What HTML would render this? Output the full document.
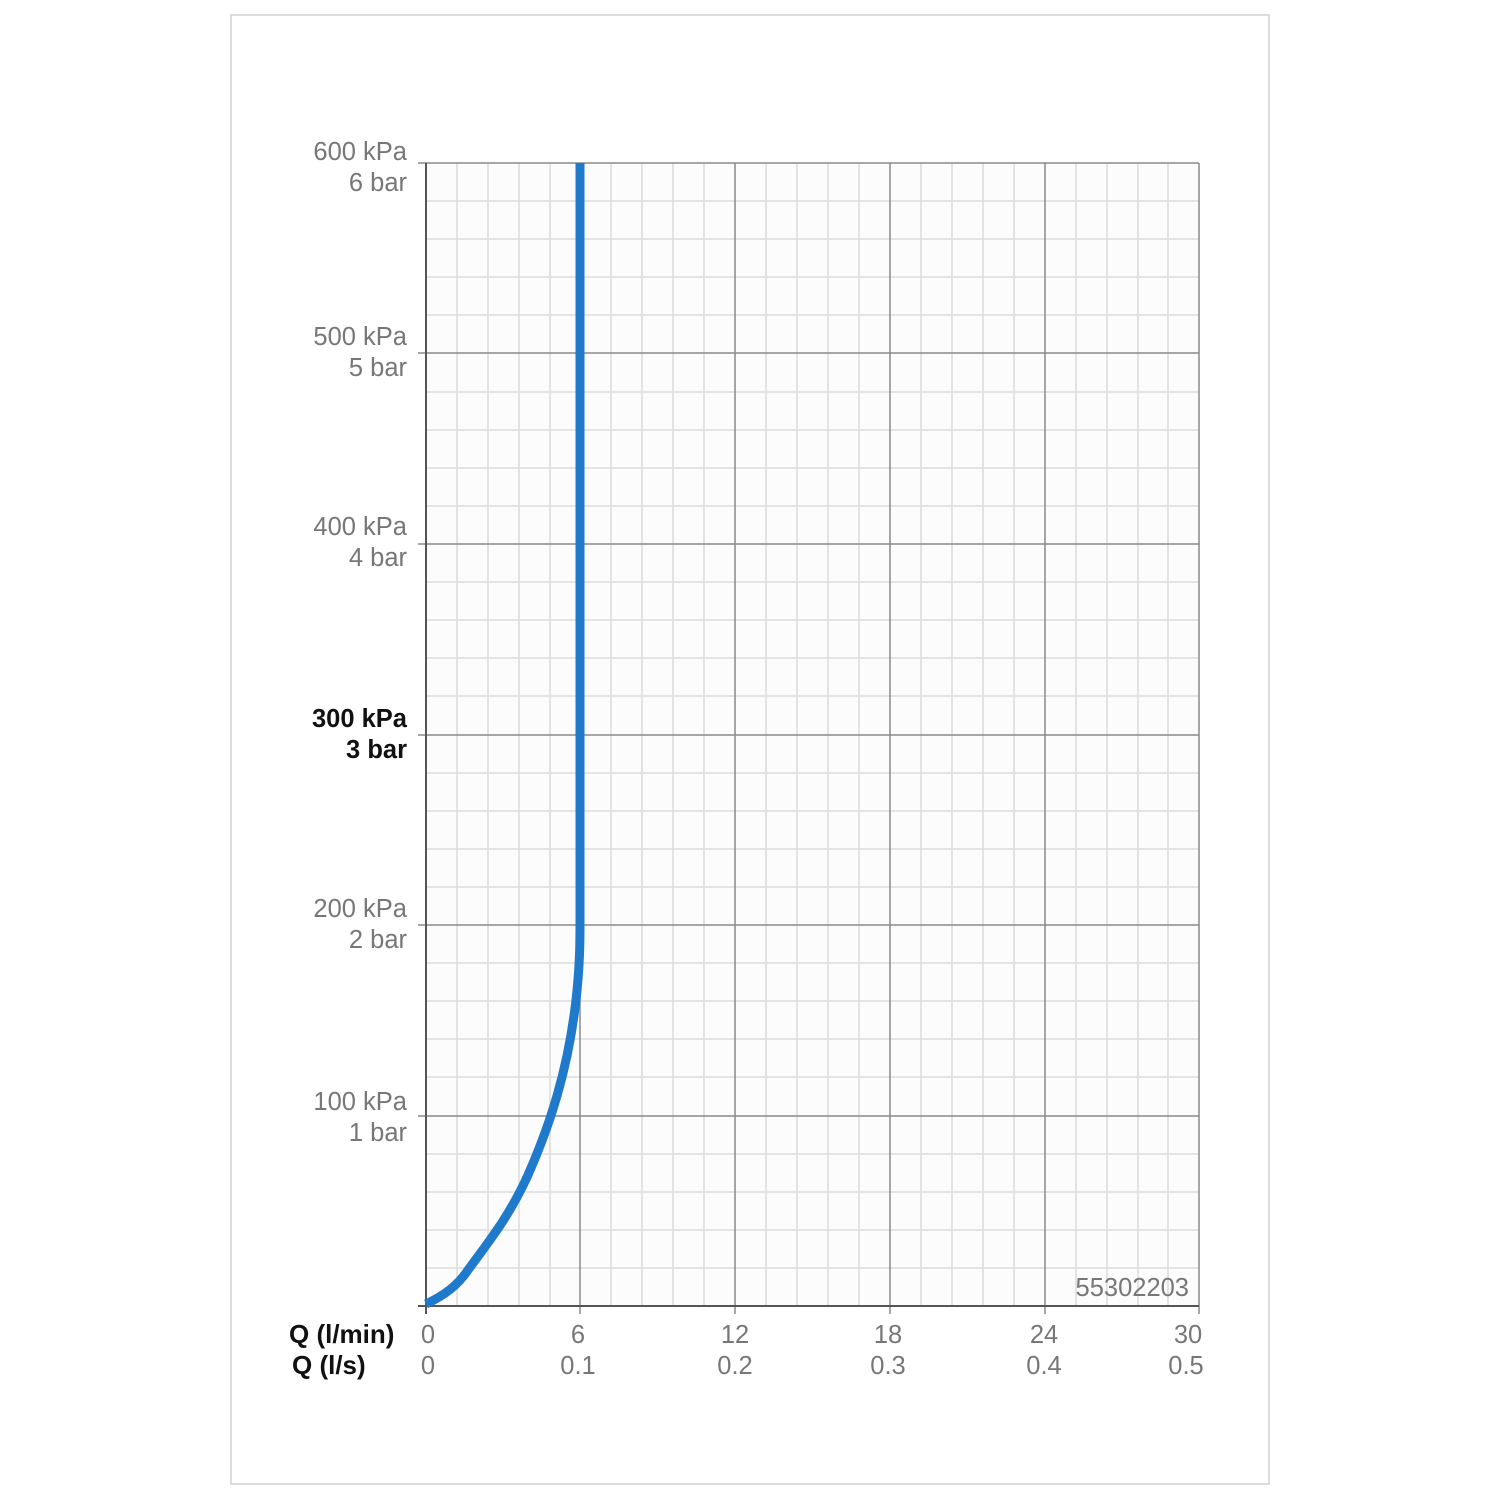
<!DOCTYPE html>
<html><head><style>body{margin:0;background:#fff}</style></head><body>
<svg width="1500" height="1500" xmlns="http://www.w3.org/2000/svg" font-family="Liberation Sans, sans-serif">
<rect x="231" y="15" width="1038" height="1469" fill="#fff" stroke="#d0d0d0" stroke-width="1.5"/>
<rect x="426" y="163" width="773" height="1143" fill="#fcfcfc"/>
<g stroke="#e0e0e0" stroke-width="1.8">
<path d="M457 163V1306M488 163V1306M519 163V1306M550 163V1306M611 163V1306M642 163V1306M673 163V1306M704 163V1306M766 163V1306M797 163V1306M828 163V1306M859 163V1306M921 163V1306M952 163V1306M983 163V1306M1014 163V1306M1076 163V1306M1107 163V1306M1138 163V1306M1168 163V1306"/>
<path d="M426 201H1199M426 239H1199M426 277H1199M426 315H1199M426 392H1199M426 430H1199M426 468H1199M426 506H1199M426 582H1199M426 620H1199M426 658H1199M426 696H1199M426 773H1199M426 811H1199M426 849H1199M426 887H1199M426 963H1199M426 1001H1199M426 1039H1199M426 1077H1199M426 1154H1199M426 1192H1199M426 1230H1199M426 1268H1199"/>
</g>
<g stroke="#8a8a8a" stroke-width="1.5">
<path d="M580 163V1314M735 163V1314M890 163V1314M1045 163V1314M1199 163V1314"/>
<path d="M418 163H1199M418 353H1199M418 544H1199M418 735H1199M418 925H1199M418 1116H1199"/>
</g>
<path d="M426 163V1314M418 1306H1199" stroke="#555" stroke-width="2" fill="none"/>
<path d="M426 1304 C445 1295 458 1285 468 1270 C490 1240 510 1215 528 1175 C550 1125 568 1070 576 1000 C580 965 580 940 580 920 V163" stroke="#1f7acc" stroke-width="9" fill="none"/>
<g font-size="25.5" fill="#777" text-anchor="end">
<text x="407" y="160">600 kPa</text><text x="407" y="191">6 bar</text>
<text x="407" y="345">500 kPa</text><text x="407" y="376">5 bar</text>
<text x="407" y="535">400 kPa</text><text x="407" y="566">4 bar</text>
<text x="407" y="727" fill="#111" font-weight="bold">300 kPa</text><text x="407" y="758" fill="#111" font-weight="bold">3 bar</text>
<text x="407" y="917">200 kPa</text><text x="407" y="948">2 bar</text>
<text x="407" y="1110">100 kPa</text><text x="407" y="1141">1 bar</text>
<text x="1189" y="1296">55302203</text>
</g>
<g font-size="25.5" fill="#777" text-anchor="middle">
<text x="428" y="1343">0</text><text x="578" y="1343">6</text><text x="735" y="1343">12</text><text x="888" y="1343">18</text><text x="1044" y="1343">24</text><text x="1188" y="1343">30</text>
<text x="428" y="1374">0</text><text x="578" y="1374">0.1</text><text x="735" y="1374">0.2</text><text x="888" y="1374">0.3</text><text x="1044" y="1374">0.4</text><text x="1186" y="1374">0.5</text>
</g>
<g font-size="26" fill="#111" font-weight="bold">
<text x="289" y="1343">Q (l/min)</text><text x="292" y="1374">Q (l/s)</text>
</g>
</svg>
</body></html>
